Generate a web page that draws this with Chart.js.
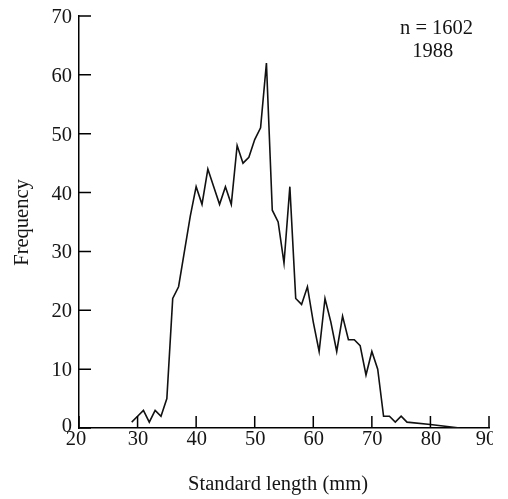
<!DOCTYPE html>
<html>
<head>
<meta charset="utf-8">
<script src="https://cdn.jsdelivr.net/npm/chart.js@4/dist/chart.umd.min.js"></script>
<style>
html,body{margin:0;padding:0;background:#fff;}
#wrap{width:508px;height:499px;position:relative;}
</style>
</head>
<body>
<div id="wrap"><canvas id="c" width="508" height="499"></canvas></div>
<script>
const lengths = [29,30,31,32,33,34,35,36,37,38,39,40,41,42,43,44,45,46,47,48,49,50,51,52,53,54,55,56,57,58,59,60,61,62,63,64,65,66,67,68,69,70,71,72,73,74,75,76,80,85];
const frequency = [1,2,3,1,3,2,5,22,24,30,36,41,38,44,41,38,41,38,48,45,46,49,51,62,37,35,28,41,22,21,24,18,13,22,18,13,19,15,15,14,9,13,10,2,2,1,2,1,0.6,0];
const xTicks = [20,30,40,50,60,70,80,90];
const yTicks = [0,10,20,30,40,50,60,70];
const xTitle = 'Standard length (mm)';
const yTitle = 'Frequency';
const annotationLines = ['n = 1602','1988'];

const FONT = '20.5px "Liberation Serif", "Times New Roman", serif';
const TEXT = '#151515';

function drawText(ctx, text, x, y, align, rot){
  ctx.save();
  ctx.translate(x, y);
  if (rot) ctx.rotate(rot);
  ctx.font = FONT;
  ctx.fillStyle = TEXT;
  ctx.textAlign = align;
  ctx.textBaseline = 'alphabetic';
  ctx.fillText(text, 0, 0);
  ctx.restore();
}

const axisDecor = {
  id:'axisDecor',
  afterDraw(chart){
    const ctx = chart.ctx, x = chart.scales.x, y = chart.scales.y;
    const area = chart.chartArea;
    ctx.save();
    ctx.strokeStyle = '#000';
    ctx.lineWidth = 1.5;
    ctx.beginPath();
    xTicks.forEach(v=>{
      const px = x.getPixelForValue(v);
      ctx.moveTo(px, area.bottom);
      ctx.lineTo(px, area.bottom-12);
    });
    yTicks.forEach(v=>{
      const py = y.getPixelForValue(v);
      ctx.moveTo(area.left, py);
      ctx.lineTo(area.left+12, py);
    });
    ctx.stroke();
    ctx.restore();

    // y tick labels (baseline below tick so digits are centred on it)
    yTicks.forEach(v=>{
      const py = y.getPixelForValue(v) + (v === 0 ? 3.5 : 7);
      drawText(ctx, String(v), area.left - 7, py, 'right');
    });
    // x tick labels (the reference image is cropped just right of the last label)
    ctx.save();
    ctx.beginPath();
    ctx.rect(0, 0, 493, chart.height);
    ctx.clip();
    xTicks.forEach(v=>{
      const off = v === 20 ? -3 : (v === 90 ? -3 : 0.5);
      drawText(ctx, String(v), x.getPixelForValue(v) + off, area.bottom + 17, 'center');
    });
    ctx.restore();
    // axis titles
    drawText(ctx, xTitle, (area.left + area.right)/2 - 6, area.bottom + 62, 'center');
    drawText(ctx, yTitle, 28, (area.top + area.bottom)/2 + 0.5, 'center', -Math.PI/2);
    // annotation
    drawText(ctx, annotationLines[0], x.getPixelForValue(81.05), y.getPixelForValue(67.0), 'center');
    drawText(ctx, annotationLines[1], x.getPixelForValue(80.4), y.getPixelForValue(63.0), 'center');
  }
};

new Chart(document.getElementById('c'), {
  type:'line',
  data:{
    datasets:[{
      data: lengths.map((l,i)=>({x:l, y:frequency[i]})),
      borderColor:'#111',
      borderWidth:1.6,
      pointRadius:0,
      tension:0,
      fill:false
    }]
  },
  options:{
    responsive:false,
    animation:false,
    events:[],
    layout:{padding:{left:0,right:19,top:16,bottom:0}},
    plugins:{legend:{display:false},tooltip:{enabled:false}},
    scales:{
      x:{
        type:'linear', min:20, max:90,
        afterFit(s){ s.height = 71; },
        grid:{display:false},
        border:{display:true, color:'#000', width:1.5},
        ticks:{display:false, stepSize:10}
      },
      y:{
        type:'linear', min:0, max:70,
        afterFit(s){ s.width = 79; },
        grid:{display:false},
        border:{display:true, color:'#000', width:1.5},
        ticks:{display:false, stepSize:10}
      }
    }
  },
  plugins:[axisDecor]
});
</script>
</body>
</html>
